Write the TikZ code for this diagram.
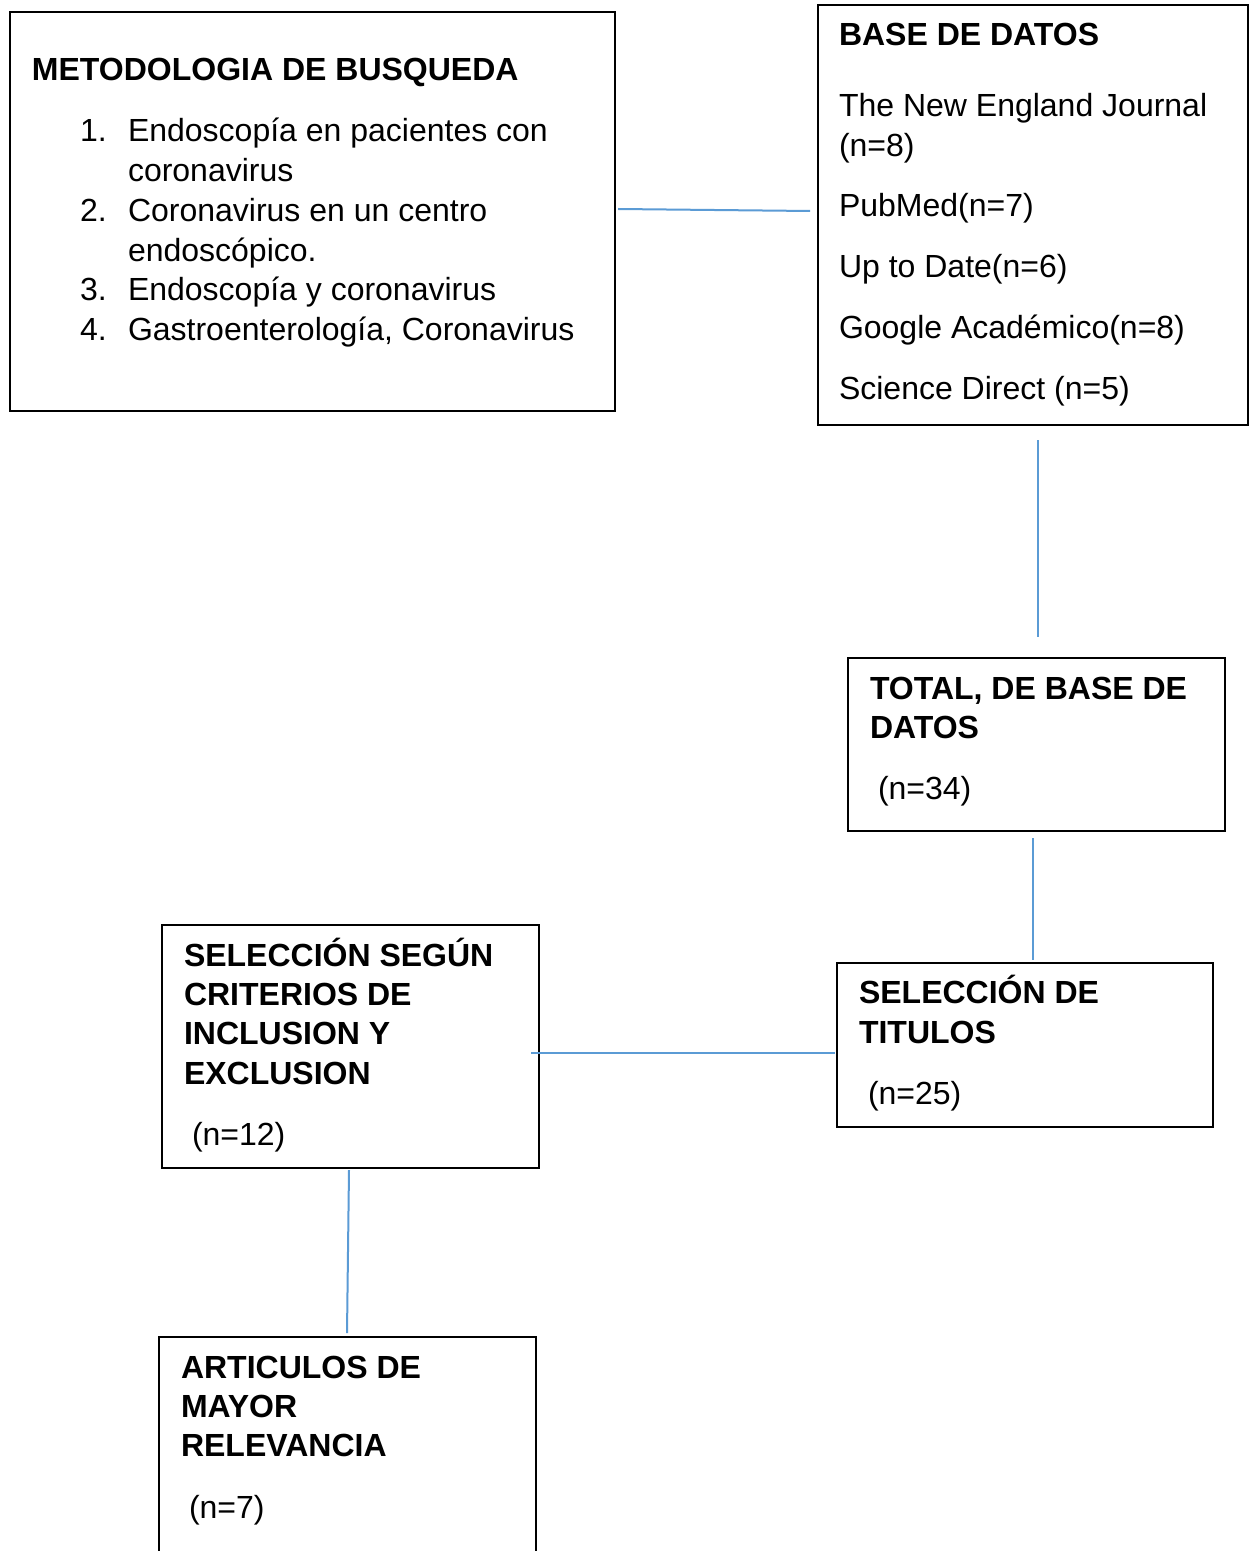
\documentclass[tikz,border=0pt]{standalone}
\usepackage{fontspec}
\setmainfont{Liberation Sans}
\usetikzlibrary{calc}
\definecolor{conncol}{HTML}{5B9BD5}
\begin{document}
\begin{tikzpicture}[x=0.5pt,y=-0.5pt,
  box/.style={draw=black, line width=1.4pt, outer sep=0pt, inner sep=0pt, anchor=north west},
  conn/.style={draw=conncol, line width=1pt},
  txt/.style={inner sep=0pt, outer sep=0pt, anchor=base west, font=\fontsize{16pt}{20pt}\selectfont},
  btxt/.style={inner sep=0pt, outer sep=0pt, anchor=base west, font=\fontsize{16pt}{20pt}\selectfont\bfseries}]
\useasboundingbox (0,0) rectangle (1250,1551);
\fill[white] (0,0) rectangle (1250,1551);

% boxes
\node[box, minimum width=302.5pt, minimum height=199.5pt] (meto) at (10,12) {};
\node[box, minimum width=215pt, minimum height=210pt] (base) at (818,5) {};
\node[box, minimum width=188.5pt, minimum height=86.5pt] (total) at (848,658) {};
\node[box, minimum width=188pt, minimum height=82pt] (seltit) at (837,963) {};
\node[box, minimum width=188.5pt, minimum height=121.5pt] (selcrit) at (162,925) {};
\node[box, minimum width=188.5pt, minimum height=118pt] (art) at (159,1337) {};

% metodologia
\node[btxt] (m0) at (32,81) {METODOLOGIA DE BUSQUEDA};
\node[txt] (m1n) at (80,142) {1.};
\node[txt] (m1) at (128,142) {Endoscopía en pacientes con};
\node[txt] (m1b) at (128,182) {coronavirus};
\node[txt] (m2n) at (80,222) {2.};
\node[txt] (m2) at (128,222) {Coronavirus en un centro};
\node[txt] (m2b) at (128,262) {endoscópico.};
\node[txt] (m3n) at (80,301) {3.};
\node[txt] (m3) at (128,301) {Endoscopía y coronavirus};
\node[txt] (m4n) at (80,341) {4.};
\node[txt] (m4) at (128,341) {Gastroenterología, Coronavirus};

% base de datos
\node[btxt] (b0) at (839,46) {BASE DE DATOS};
\node[txt] (b1) at (839,117) {The New England Journal};
\node[txt] (b1b) at (839,157) {(n=8)};
\node[txt] (b2) at (839,217) {PubMed(n=7)};
\node[txt] (b3) at (839,278) {Up to Date(n=6)};
\node[txt] (b4) at (839,339) {Google Académico(n=8)};
\node[txt] (b5) at (839,399) {Science Direct (n=5)};

% total
\node[btxt] (t0) at (870,699) {TOTAL, DE BASE DE};
\node[btxt] (t1) at (870,738) {DATOS};
\node[txt] (t2) at (878,799) {(n=34)};

% seleccion de titulos
\node[btxt] (s0) at (859,1003) {SELECCIÓN DE};
\node[btxt] (s1) at (859,1043) {TITULOS};
\node[txt] (s2) at (868,1104) {(n=25)};

% seleccion segun criterios
\node[btxt] (c0) at (184,966) {SELECCIÓN SEGÚN};
\node[btxt] (c1) at (184,1005) {CRITERIOS DE};
\node[btxt] (c2) at (184,1044) {INCLUSION Y};
\node[btxt] (c3) at (184,1084) {EXCLUSION};
\node[txt] (c4) at (192,1145) {(n=12)};

% articulos
\node[btxt] (a0) at (181,1378) {ARTICULOS DE};
\node[btxt] (a1) at (181,1417) {MAYOR};
\node[btxt] (a2) at (181,1456) {RELEVANCIA};
\node[txt] (a3) at (189,1518) {(n=7)};

% connectors
\draw[conn] ($(meto.north east)+(3,197)$) -- ($(base.north west)+(-8,206)$);
\draw[conn] ($(base.south west)+(220,15)$) -- ($(total.north west)+(190,-21)$);
\draw[conn] ($(total.south west)+(185,7)$) -- ($(seltit.north west)+(196,-3)$);
\draw[conn] ($(seltit.north west)+(-2,90)$) -- ($(selcrit.north east)+(-8,128)$);
\draw[conn] ($(selcrit.south west)+(187,2)$) -- ($(art.north west)+(188,-4)$);
\end{tikzpicture}
\end{document}
